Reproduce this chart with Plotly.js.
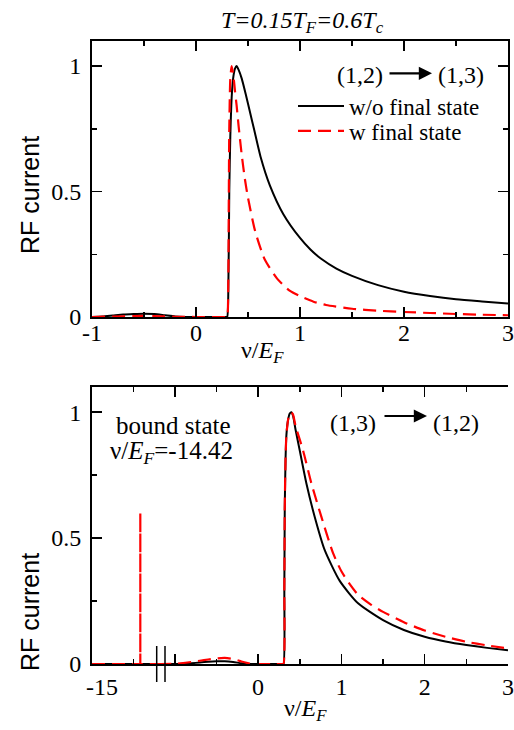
<!DOCTYPE html>
<html><head><meta charset="utf-8">
<script src="https://cdn.plot.ly/plotly-3.0.1.min.js"></script>
<style>html,body{margin:0;padding:0;background:#fff}#chart{width:514px;height:730px}</style>
</head><body><div id="chart"></div>
<script>
// ---------- data: upper panel, (1,2) -> (1,3) ----------
const topNuBlack = [-1.0,-0.9,-0.8,-0.7,-0.6,-0.5,-0.4,-0.3,-0.2,-0.1,0.0,0.2,0.29,0.30,0.31,0.32,0.33,0.345,0.36,0.375,0.39,0.41,0.44,0.48,0.52,0.56,0.62,0.71,0.84,1.0,1.1,1.2,1.35,1.5,1.75,2.0,2.25,2.5,2.75,3.0];
const topIBlack  = [0.0,0.002,0.006,0.010,0.012,0.013,0.012,0.007,0.002,0.0,0.0,0.0,0.0,0.0,0.08,0.50,0.72,0.89,0.96,0.99,1.0,0.985,0.95,0.885,0.815,0.745,0.64,0.525,0.41,0.315,0.269,0.233,0.193,0.164,0.127,0.101,0.084,0.071,0.062,0.054];
const topNuRed   = [-1.0,-0.8,-0.6,-0.4,-0.2,0.0,0.2,0.29,0.30,0.31,0.315,0.32,0.33,0.343,0.36,0.375,0.39,0.41,0.44,0.47,0.50,0.57,0.66,0.78,0.90,1.0,1.13,1.25,1.5,1.75,2.0,2.25,2.5,2.75,3.0];
const topIRed    = [0.0,0.002,0.004,0.004,0.001,0.0,0.0,0.0,0.0,0.12,0.45,0.75,0.95,1.0,0.96,0.90,0.845,0.76,0.645,0.55,0.475,0.34,0.23,0.153,0.105,0.083,0.061,0.048,0.033,0.025,0.020,0.016,0.012,0.009,0.007];

// ---------- data: lower panel, (1,3) -> (1,2) ----------
// bound-state region (left of the axis break)
const boundNuBlack = [-15.0,-14.0];
const boundIBlack  = [0.0,0.0];
const boundNuRed   = [-15.0,-14.42,-14.42,-14.42,-14.0];
const boundIRed    = [0.0,0.0,0.6,0.0,0.0];
// continuum region (right of the axis break)
const lowNuBlack = [-1.2,-1.0,-0.9,-0.8,-0.7,-0.6,-0.5,-0.4,-0.3,-0.2,-0.1,0.0,0.2,0.29,0.305,0.315,0.32,0.33,0.34,0.36,0.38,0.40,0.42,0.45,0.50,0.58,0.68,0.80,0.98,1.2,1.5,1.75,2.0,2.25,2.5,2.75,3.0];
const lowIBlack  = [0.0,0.0,0.001,0.003,0.006,0.009,0.011,0.011,0.008,0.003,0.0,0.0,0.0,0.0,0.0,0.30,0.62,0.82,0.91,0.97,0.995,1.0,0.985,0.93,0.848,0.717,0.584,0.452,0.33,0.241,0.174,0.135,0.108,0.089,0.075,0.064,0.055];
const lowNuRed   = [-1.2,-1.0,-0.9,-0.8,-0.7,-0.6,-0.5,-0.4,-0.3,-0.2,-0.1,0.0,0.2,0.29,0.305,0.315,0.32,0.33,0.34,0.36,0.38,0.40,0.42,0.45,0.54,0.64,0.76,0.90,1.0,1.1,1.2,1.35,1.5,1.75,2.0,2.25,2.5,2.75,3.0];
const lowIRed    = [0.0,0.001,0.004,0.008,0.013,0.018,0.022,0.024,0.020,0.010,0.002,0.0,0.0,0.0,0.0,0.30,0.62,0.82,0.91,0.97,0.995,1.0,0.99,0.945,0.848,0.717,0.584,0.44,0.368,0.317,0.275,0.237,0.207,0.166,0.133,0.108,0.088,0.074,0.062];

// tick labels
const xTopTicks = [-1,0,1,2,3];
const xTopTickText = ['-1','0','1','2','3'];
const yTicks = [0,0.5,1];
const yTickText = ['0','0.5','1'];
const xBoundTicks = [-15];
const xBoundTickText = ['-15'];
const xLowTicks = [-1,0,1,2,3];
const xLowTickText = ['','0','1','2','3'];

// ---------- layout helpers ----------
const serif = 'Liberation Serif, Times New Roman, serif';
const sans = 'Liberation Sans, Arial, sans-serif';
const W = 514, H = 730;
const L = 92, R = 6, T = 41, B = 66;
const pw = W - L - R, ph = H - T - B;
const px = v => (v - L) / pw;          // pixel x -> paper
const py = v => (H - B - v) / ph;      // pixel y -> paper
const breakPx = 161;
const bFrac = px(breakPx);
const scaleLow = 83.3;                 // px per unit in lower panel
const leftEnd = -15 + (breakPx - L) / scaleLow;
const rightStart = 3 - (W - R - breakPx) / scaleLow;

function ax(extra) {
  return Object.assign({
    showline: true, linecolor: 'black', linewidth: 2, mirror: 'ticks',
    ticks: 'inside', ticklen: 10, tickwidth: 1.5, tickcolor: 'black',
    showgrid: false, zeroline: false, tickmode: 'array',
    tickfont: {family: serif, size: 24, color: 'black'}
  }, extra);
}
function minor(vals) {
  return {tickmode: 'array', tickvals: vals, ticks: 'inside', ticklen: 5, tickwidth: 1.5, tickcolor: 'black', showgrid: false};
}

const black = {color: 'black', width: 2, shape: 'spline', smoothing: 0.6};
const red = {color: '#ff0000', width: 2.2, dash: '13px,7px', shape: 'spline', smoothing: 0.6};

const data = [
  {x: topNuBlack, y: topIBlack, xaxis: 'x', yaxis: 'y', mode: 'lines', name: 'w/o final state', legend: 'legend', line: black},
  {x: topNuRed, y: topIRed, xaxis: 'x', yaxis: 'y', mode: 'lines', name: 'w final state', legend: 'legend2', line: red},
  {x: boundNuBlack, y: boundIBlack, xaxis: 'x2', yaxis: 'y2', mode: 'lines', showlegend: false, line: {color: 'black', width: 2}},
  {x: boundNuRed, y: boundIRed, xaxis: 'x2', yaxis: 'y2', mode: 'lines', showlegend: false, line: {color: '#ff0000', width: 2.2, dash: '13px,7px'}},
  {x: lowNuBlack, y: lowIBlack, xaxis: 'x3', yaxis: 'y2', mode: 'lines', showlegend: false, line: black},
  {x: lowNuRed, y: lowIRed, xaxis: 'x3', yaxis: 'y2', mode: 'lines', showlegend: false, line: red}
];

const topDom = [py(317), 1];
const lowDom = [0, py(387)];

const xTitle = '\u03bd/<i>E</i><sub><i>F</i></sub>';
const annFont = {family: serif, size: 24, color: 'black'};
const legBase = {xanchor: 'left', yanchor: 'middle', bgcolor: 'rgba(0,0,0,0)', itemwidth: 46,
                 font: {family: serif, size: 23, color: 'black'}};

const layout = {
  width: W, height: H,
  margin: {l: L, r: R, t: T, b: B},
  paper_bgcolor: 'white', plot_bgcolor: 'white',
  title: {text: '<i>T=0.15T<sub>F</sub>=0.6T<sub>c</sub></i>', font: {family: serif, size: 24, color: 'black'},
          x: px(302), xref: 'paper', xanchor: 'center', y: 1 - 20 / H, yref: 'container', yanchor: 'middle'},
  showlegend: true,
  legend: Object.assign({x: px(293), y: py(106)}, legBase),
  legend2: Object.assign({x: px(293), y: py(131)}, legBase),
  xaxis: ax({domain: [0, 1], anchor: 'y', range: [-1, 3], tickvals: xTopTicks, ticktext: xTopTickText, ticklabelstandoff: -7, minor: minor([-0.5, 0.5, 1.5, 2.5])}),
  yaxis: ax({domain: topDom, anchor: 'x', range: [0, 1.1], tickvals: yTicks, ticktext: yTickText, ticklabelstandoff: 4, minor: minor([0.25, 0.75])}),
  xaxis2: ax({domain: [0, bFrac], anchor: 'y2', range: [-15, leftEnd], tickvals: xBoundTicks, ticktext: xBoundTickText, ticklabelshift: 10, minor: minor([-14.5])}),
  xaxis3: ax({domain: [bFrac, 1], anchor: 'y2', range: [rightStart, 3], tickvals: xLowTicks, ticktext: xLowTickText, minor: minor([-0.5, 0.5, 1.5, 2.5])}),
  yaxis2: ax({domain: lowDom, anchor: 'x2', side: 'left', mirror: false, range: [0, 1.1], tickvals: yTicks, ticktext: yTickText, ticklabelstandoff: 4, minor: minor([0.25, 0.75])}),
  yaxis3: ax({domain: lowDom, anchor: 'x3', side: 'right', overlaying: 'y2', mirror: false, range: [0, 1.1], tickvals: yTicks, ticktext: yTickText, showticklabels: false, minor: minor([0.25, 0.75])}),
  shapes: [
    {type: 'line', xref: 'paper', yref: 'paper', x0: px(156.7), x1: px(156.7), y0: py(646), y1: py(682), line: {color: 'black', width: 1.5}},
    {type: 'line', xref: 'paper', yref: 'paper', x0: px(165), x1: px(165), y0: py(646), y1: py(682), line: {color: 'black', width: 1.5}}
  ],
  annotations: [
    {text: xTitle, xref: 'paper', yref: 'paper', x: px(262), y: py(352), showarrow: false, font: annFont, xanchor: 'center', yanchor: 'middle'},
    {text: xTitle, xref: 'paper', yref: 'paper', x: px(305), y: py(710), showarrow: false, font: annFont, xanchor: 'center', yanchor: 'middle'},
    {text: 'RF current', xref: 'paper', yref: 'paper', x: px(30), y: py(195), textangle: -90, showarrow: false, font: {family: sans, size: 25, color: 'black'}, xanchor: 'center', yanchor: 'middle'},
    {text: 'RF current', xref: 'paper', yref: 'paper', x: px(30), y: py(612), textangle: -90, showarrow: false, font: {family: sans, size: 25, color: 'black'}, xanchor: 'center', yanchor: 'middle'},
    {text: '(1,2)', xref: 'paper', yref: 'paper', x: px(360), y: py(75), showarrow: false, font: annFont, xanchor: 'center', yanchor: 'middle'},
    {text: '', xref: 'paper', yref: 'paper', x: px(432), y: py(73.3), ax: -44, ay: 0, showarrow: true, arrowhead: 2, arrowsize: 1.2, arrowwidth: 2.2, arrowcolor: 'black'},
    {text: '(1,3)', xref: 'paper', yref: 'paper', x: px(461), y: py(75), showarrow: false, font: annFont, xanchor: 'center', yanchor: 'middle'},
    {text: '(1,3)', xref: 'paper', yref: 'paper', x: px(352.5), y: py(423), showarrow: false, font: annFont, xanchor: 'center', yanchor: 'middle'},
    {text: '', xref: 'paper', yref: 'paper', x: px(427), y: py(416), ax: -44, ay: 0, showarrow: true, arrowhead: 2, arrowsize: 1.2, arrowwidth: 2.2, arrowcolor: 'black'},
    {text: '(1,2)', xref: 'paper', yref: 'paper', x: px(456), y: py(423), showarrow: false, font: annFont, xanchor: 'center', yanchor: 'middle'},
    {text: 'bound state', xref: 'paper', yref: 'paper', x: px(173.7), y: py(425), showarrow: false, font: {family: serif, size: 25, color: 'black'}, xanchor: 'center', yanchor: 'middle'},
    {text: '\u03bd/<i>E</i><sub><i>F</i></sub>=-14.42', xref: 'paper', yref: 'paper', x: px(171), y: py(452), showarrow: false, font: {family: serif, size: 25, color: 'black'}, xanchor: 'center', yanchor: 'middle'}
  ]
};

Plotly.newPlot('chart', data, layout, {staticPlot: true, displayModeBar: false});
</script></body></html>
